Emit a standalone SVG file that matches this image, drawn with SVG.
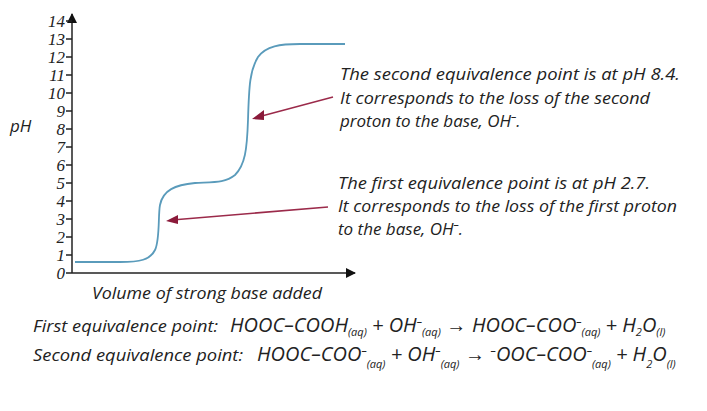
<svg xmlns="http://www.w3.org/2000/svg" width="707" height="411" viewBox="0 0 707 411">
<style>
text{font-family:"Open Sans","Liberation Sans",sans-serif;font-style:italic;fill:#222}
.t{font-size:17px}
.e{font-size:20px}
.n{font-size:17px;font-family:"Liberation Serif",serif;text-anchor:end}
.s{font-size:11px}
.ax{stroke:#222;stroke-width:1.5;fill:none}
.ar{stroke:#9b2a4a;stroke-width:1.6;fill:none}
</style>
<defs>
<marker id="ak" markerWidth="10" markerHeight="10" refX="9" refY="5" orient="auto" markerUnits="userSpaceOnUse"><path d="M0,0 L10,5 L0,10 Z" fill="#111"/></marker>
</defs>
<g id="axes">
<path class="ax" d="M72,273 V14" marker-end="url(#ak)"/>
<path class="ax" d="M72,273 H355" marker-end="url(#ak)"/>
<path class="ax" d="M66,273H72M66,255H72M66,237H72M66,219H72M66,201H72M66,183H72M66,165H72M66,147H72M66,129H72M66,111H72M66,93H72M66,75H72M66,57H72M66,39H72M66,21H72"/>
<text class="n" x="65" y="279">0</text><text class="n" x="65" y="261">1</text><text class="n" x="65" y="243">2</text><text class="n" x="65" y="225">3</text><text class="n" x="65" y="207">4</text><text class="n" x="65" y="189">5</text><text class="n" x="65" y="171">6</text><text class="n" x="65" y="153">7</text><text class="n" x="65" y="135">8</text><text class="n" x="65" y="117">9</text><text class="n" x="65" y="99">10</text><text class="n" x="65" y="81">11</text><text class="n" x="65" y="63">12</text><text class="n" x="65" y="45">13</text><text class="n" x="65" y="27">14</text>
<text class="t" x="10" y="132">pH</text>
<text class="t" x="92" y="299" textLength="230" lengthAdjust="spacingAndGlyphs">Volume of strong base added</text>
</g>
<g id="curve">
<path d="M75,262 H120 C140,262 150,260 155,250 C160,240 158,215 160,205 C163,190 175,185 195,183 C215,182 225,183 235,175 C245,165 247,150 248,120 C249,85 250,70 258,57 C266,46 280,44 300,44 H345" fill="none" stroke="#5a9bbb" stroke-width="1.8"/>
</g>
<g id="connectors">
<path class="ar" d="M333,97 L258,117"/>
<path class="ar" d="M328,207 L172,220"/>
<path d="M252,119 L264,110 L264,120 Z M166,221 L178,215 L178,224 Z" fill="#8b1a3a"/>
</g>
<g id="label2">
<text class="t" x="340" y="80" textLength="340" lengthAdjust="spacingAndGlyphs">The second equivalence point is at pH 8.4.</text>
<text class="t" x="340" y="104" textLength="310" lengthAdjust="spacingAndGlyphs">It corresponds to the loss of the second</text>
<text class="t" x="340" y="127">proton to the base, OH<tspan class="s" dy="-7">–</tspan><tspan dy="7">.</tspan></text>
</g>
<g id="label1">
<text class="t" x="338" y="189" textLength="312" lengthAdjust="spacingAndGlyphs">The first equivalence point is at pH 2.7.</text>
<text class="t" x="338" y="212" textLength="339" lengthAdjust="spacingAndGlyphs">It corresponds to the loss of the first proton</text>
<text class="t" x="338" y="235">to the base, OH<tspan class="s" dy="-7">–</tspan><tspan dy="7">.</tspan></text>
</g>
<g id="equations">
<text class="t" x="33" y="332" textLength="185" lengthAdjust="spacingAndGlyphs">First equivalence point:</text>
<text class="e" x="230" y="332">HOOC–COOH<tspan class="s" dy="4">(aq)</tspan><tspan dy="-4"> + OH</tspan><tspan class="s" dy="-7">–</tspan><tspan class="s" dy="11">(aq)</tspan><tspan dy="-4" font-family="Liberation Sans"> → </tspan><tspan>HOOC–COO</tspan><tspan class="s" dy="-7">–</tspan><tspan class="s" dy="11">(aq)</tspan><tspan dy="-4"> + H</tspan><tspan class="s" dy="4">2</tspan><tspan dy="-4">O</tspan><tspan class="s" dy="4">(l)</tspan></text>
<text class="t" x="33" y="361" textLength="210" lengthAdjust="spacingAndGlyphs">Second equivalence point:</text>
<text class="e" x="257" y="361">HOOC–COO<tspan class="s" dy="-7">–</tspan><tspan class="s" dy="14">(aq)</tspan><tspan dy="-7"> + OH</tspan><tspan class="s" dy="-7">–</tspan><tspan class="s" dy="14">(aq)</tspan><tspan dy="-7" font-family="Liberation Sans"> → </tspan><tspan class="s" dy="-7">–</tspan><tspan dy="7">OOC–COO</tspan><tspan class="s" dy="-7">–</tspan><tspan class="s" dy="14">(aq)</tspan><tspan dy="-7"> + H</tspan><tspan class="s" dy="7">2</tspan><tspan dy="-7">O</tspan><tspan class="s" dy="7">(l)</tspan></text>
</g>
</svg>
